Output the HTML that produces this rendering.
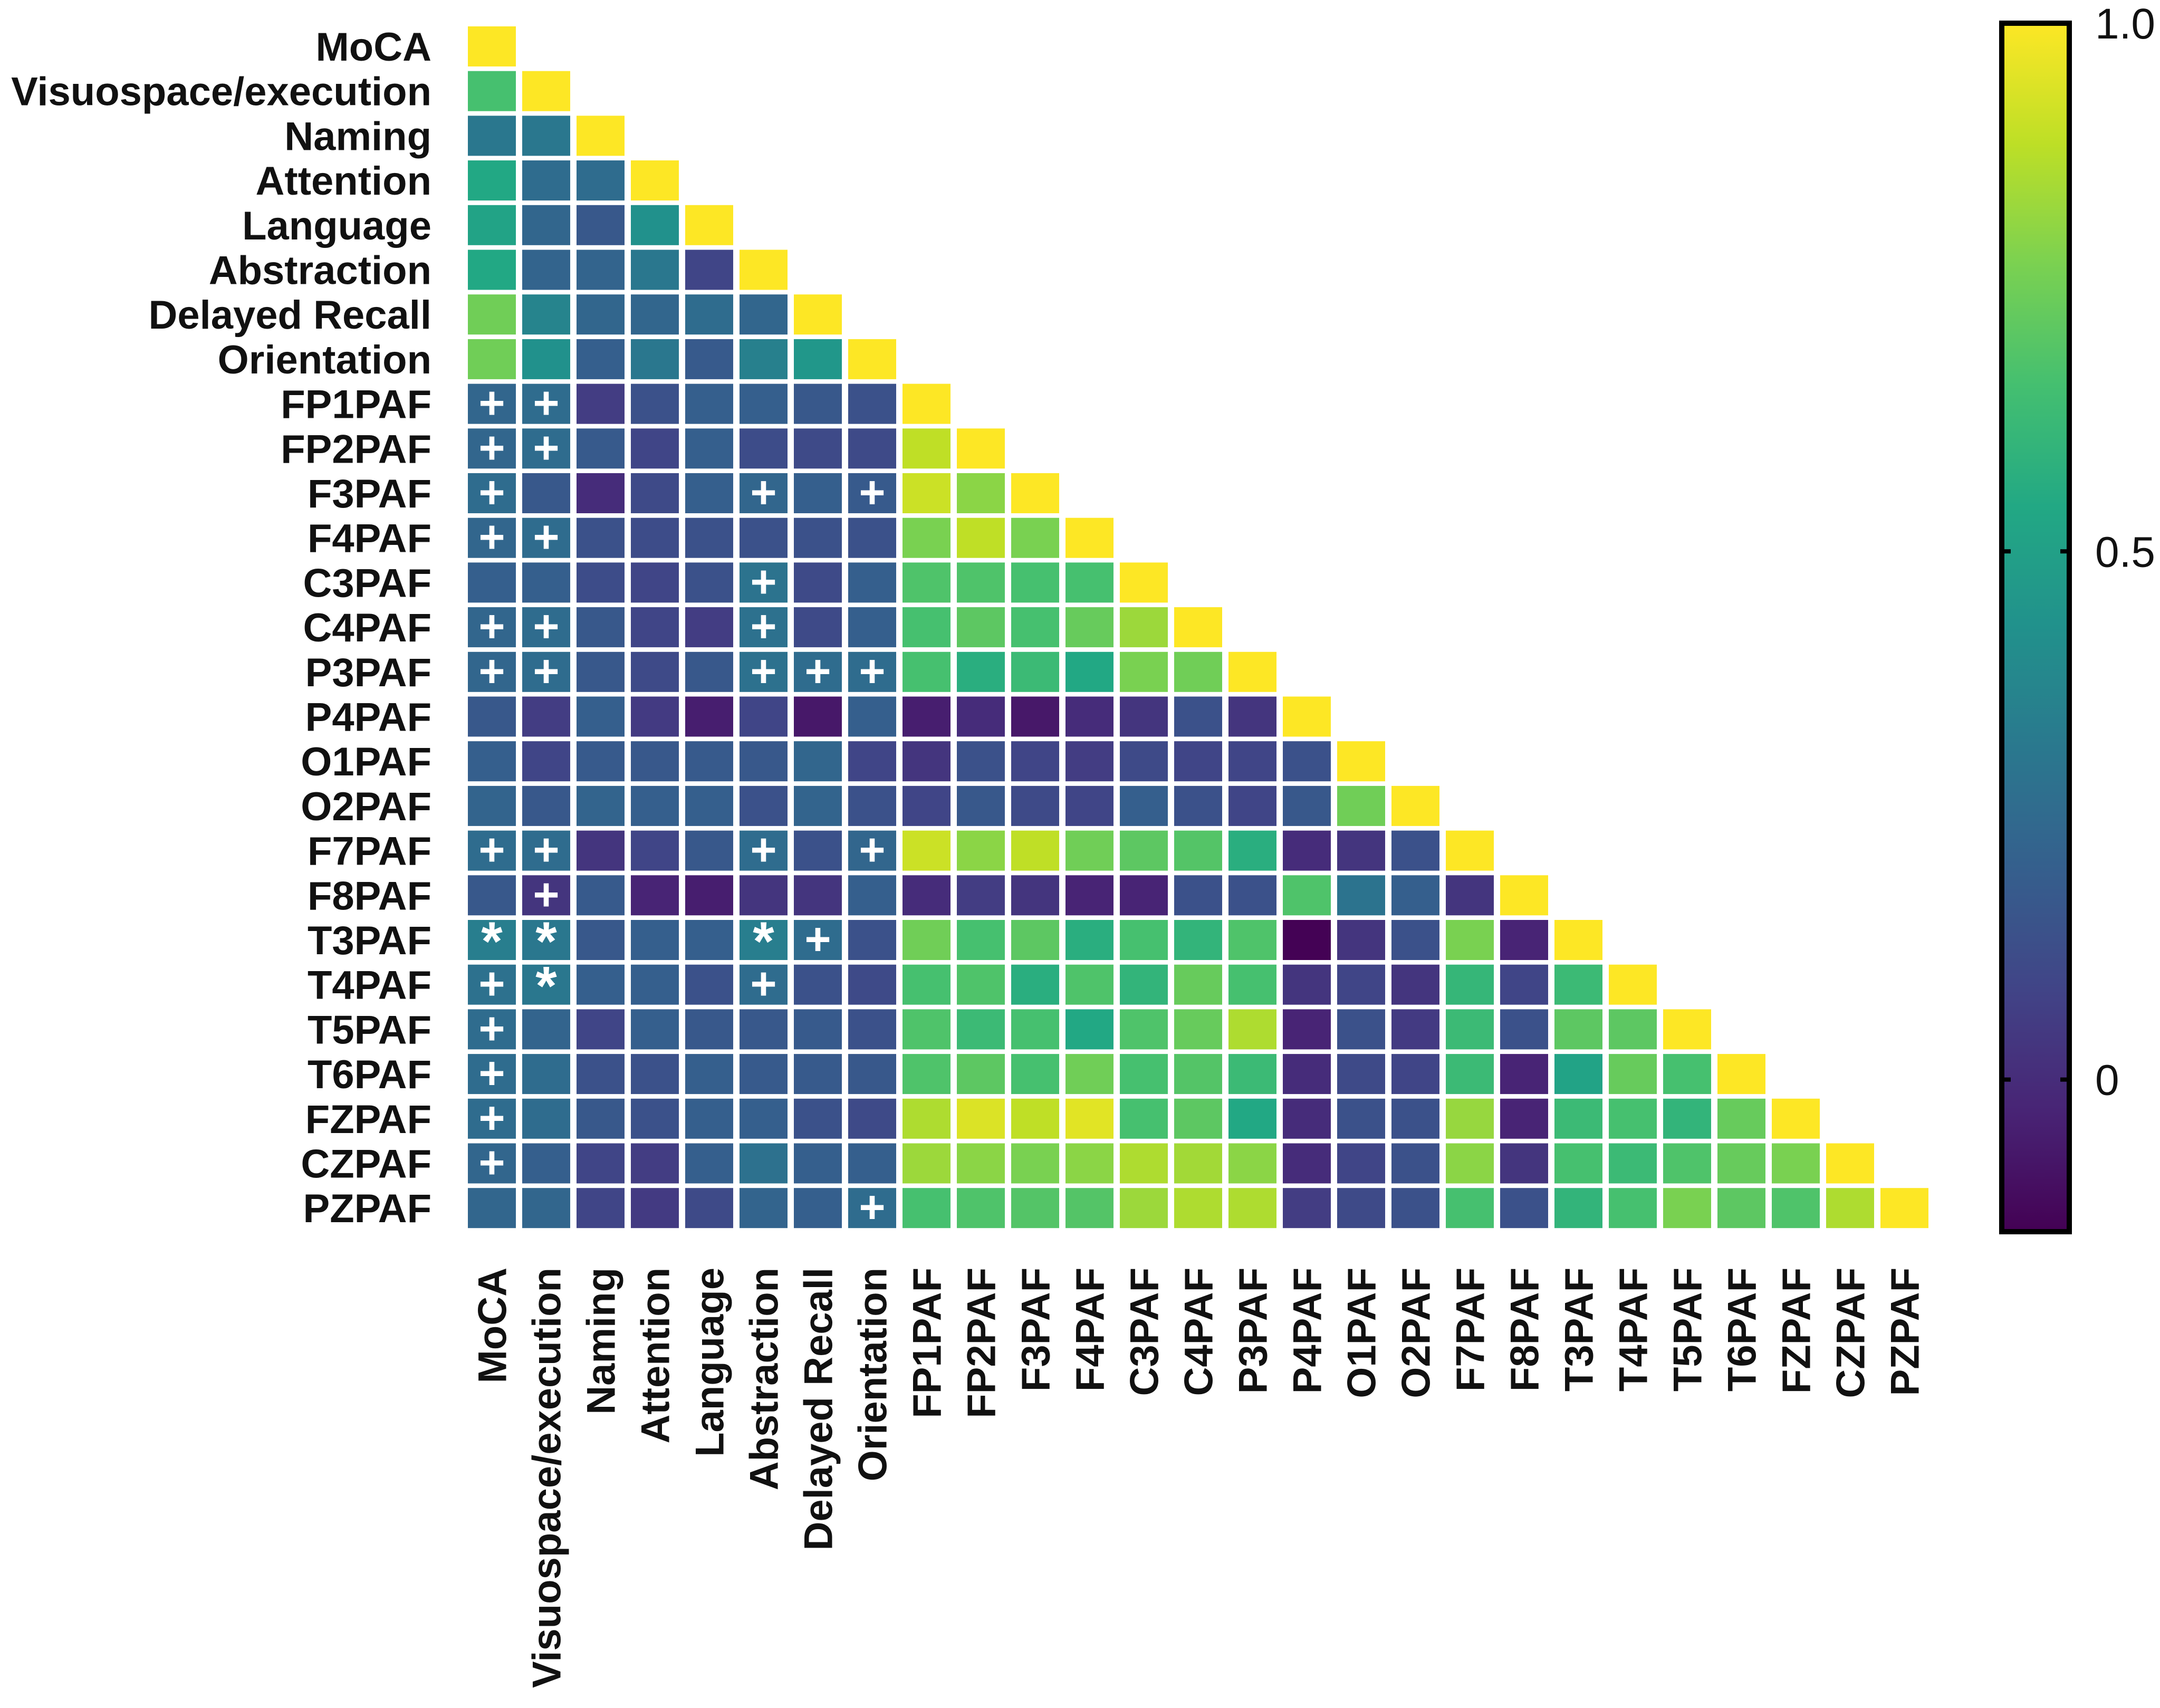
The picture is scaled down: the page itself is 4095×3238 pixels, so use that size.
<!DOCTYPE html>
<html><head><meta charset="utf-8"><style>
html,body{margin:0;padding:0;background:#fff}
svg{display:block}
text{font-family:"Liberation Sans",Arial,sans-serif}
</style></head><body>
<svg id="chart" width="4095" height="3238" viewBox="0 0 4095 3238" xmlns="http://www.w3.org/2000/svg">
<defs><linearGradient id="vir" x1="0" y1="1" x2="0" y2="0"></linearGradient></defs>
<g id="cells"></g>
<g id="rowlabels"></g>
<g id="collabels"></g>
<g id="cbar"></g>
</svg>
<script>
const labels = ["MoCA","Visuospace/execution","Naming","Attention","Language","Abstraction","Delayed Recall","Orientation","FP1PAF","FP2PAF","F3PAF","F4PAF","C3PAF","C4PAF","P3PAF","P4PAF","O1PAF","O2PAF","F7PAF","F8PAF","T3PAF","T4PAF","T5PAF","T6PAF","FZPAF","CZPAF","PZPAF"];
const values = [
[1],
[0.66,1],
[0.31,0.31,1],
[0.54,0.26,0.26,1],
[0.52,0.23,0.17,0.43,1],
[0.54,0.22,0.22,0.31,0.09,1],
[0.75,0.37,0.23,0.23,0.26,0.23,1],
[0.75,0.43,0.20,0.31,0.18,0.35,0.46,1],
[0.23,0.26,0.06,0.14,0.20,0.20,0.17,0.14,1],
[0.23,0.26,0.18,0.09,0.20,0.12,0.11,0.11,0.89,1],
[0.26,0.17,0.00,0.11,0.20,0.23,0.20,0.18,0.91,0.80,1],
[0.23,0.26,0.14,0.12,0.14,0.14,0.14,0.14,0.77,0.89,0.77,1],
[0.20,0.20,0.12,0.09,0.14,0.29,0.11,0.20,0.68,0.68,0.66,0.66,1],
[0.23,0.26,0.17,0.09,0.06,0.28,0.11,0.20,0.66,0.71,0.66,0.73,0.83,1],
[0.23,0.26,0.17,0.11,0.17,0.28,0.26,0.26,0.66,0.57,0.63,0.54,0.77,0.75,1],
[0.17,0.06,0.20,0.05,-0.05,0.09,-0.07,0.20,-0.05,0.00,-0.07,0.00,0.03,0.14,0.03,1],
[0.20,0.09,0.18,0.17,0.18,0.17,0.23,0.09,0.03,0.14,0.09,0.06,0.11,0.09,0.09,0.14,1],
[0.22,0.17,0.22,0.20,0.20,0.14,0.22,0.14,0.09,0.17,0.11,0.09,0.20,0.14,0.09,0.17,0.75,1],
[0.26,0.26,0.03,0.09,0.17,0.26,0.14,0.23,0.91,0.80,0.89,0.75,0.71,0.69,0.57,0.00,0.03,0.14,1],
[0.17,0.03,0.18,-0.03,-0.05,0.03,0.03,0.20,0.00,0.06,0.03,-0.03,-0.03,0.14,0.14,0.68,0.29,0.20,0.03,1],
[0.34,0.31,0.17,0.20,0.20,0.34,0.26,0.14,0.75,0.66,0.71,0.57,0.66,0.60,0.68,-0.14,0.03,0.14,0.77,-0.03,1],
[0.28,0.31,0.20,0.20,0.14,0.26,0.14,0.11,0.66,0.68,0.57,0.68,0.60,0.73,0.66,0.03,0.09,0.03,0.61,0.09,0.63,1],
[0.26,0.22,0.09,0.20,0.17,0.17,0.18,0.14,0.68,0.63,0.66,0.54,0.68,0.73,0.86,-0.03,0.14,0.05,0.63,0.14,0.71,0.71,1],
[0.26,0.26,0.14,0.14,0.20,0.18,0.18,0.17,0.68,0.71,0.66,0.75,0.66,0.69,0.63,0.00,0.11,0.09,0.63,-0.03,0.52,0.73,0.66,1],
[0.26,0.26,0.17,0.14,0.20,0.20,0.14,0.11,0.86,0.94,0.89,0.95,0.66,0.71,0.54,0.00,0.14,0.14,0.82,-0.03,0.63,0.66,0.60,0.73,1],
[0.23,0.20,0.09,0.06,0.20,0.28,0.20,0.20,0.83,0.80,0.77,0.80,0.86,0.84,0.80,0.00,0.09,0.14,0.80,0.03,0.66,0.63,0.68,0.73,0.77,1],
[0.23,0.23,0.09,0.05,0.11,0.22,0.20,0.26,0.66,0.68,0.69,0.69,0.83,0.86,0.86,0.06,0.11,0.14,0.66,0.14,0.60,0.66,0.77,0.71,0.68,0.86,1]
];
// significance markers: [row, col, symbol]
const markers = [
[8,0,"+"],[8,1,"+"],[9,0,"+"],[9,1,"+"],[10,0,"+"],[10,5,"+"],[10,7,"+"],[11,0,"+"],[11,1,"+"],
[12,5,"+"],[13,0,"+"],[13,1,"+"],[13,5,"+"],[14,0,"+"],[14,1,"+"],[14,5,"+"],[14,6,"+"],[14,7,"+"],
[18,0,"+"],[18,1,"+"],[18,5,"+"],[18,7,"+"],[19,1,"+"],[20,0,"*"],[20,1,"*"],[20,5,"*"],[20,6,"+"],
[21,0,"+"],[21,1,"*"],[21,5,"+"],[22,0,"+"],[23,0,"+"],[24,0,"+"],[25,0,"+"],[26,7,"+"]
];
const cbTicks = [1.0, 0.5, 0];
const cbTickLabels = ["1.0","0.5","0"];
const vmin = -0.144, vmax = 1.0;

const NS="http://www.w3.org/2000/svg";
const stops=[[68,1,84],[72,36,117],[65,68,135],[53,95,141],[42,120,142],[33,145,140],[34,168,132],[68,191,112],[122,209,81],[189,223,38],[253,231,37]];
function viridis(t){t=Math.max(0,Math.min(1,t));const p=t*10,i=Math.min(9,Math.floor(p)),f=p-i;const a=stops[i],b=stops[i+1];
return "rgb("+a.map((c,k)=>Math.round(c+(b[k]-c)*f)).join(",")+")";}
function color(v){return viridis((v-vmin)/(vmax-vmin));}
const x0=887, px=103, cw=91, y0=50, py=84.7, ch=76;
function xs(c){return x0+c*px;}
function ys(r){return y0+r*py;}
function mk(tag,attrs,parent){const e=document.createElementNS(NS,tag);for(const k in attrs)e.setAttribute(k,attrs[k]);parent.appendChild(e);return e;}
const cells=document.getElementById('cells');
values.forEach((row,r)=>row.forEach((v,c)=>{
  const el=mk('rect',{x:xs(c),y:ys(r),width:cw,height:ch,fill:color(v)},cells);
  
  
}));
markers.forEach(m=>{
  const t=mk('text',{x:xs(m[1])+cw/2,y:ys(m[0])+ch/2+(m[2]=="*"?38:28),'text-anchor':'middle','font-size':m[2]=="*"?104:86,'font-weight':'bold',fill:'#fff'},cells);
  t.textContent=m[2];
  
  
});
const rl=document.getElementById('rowlabels'), cl=document.getElementById('collabels');
labels.forEach((l,i)=>{
  const t=mk('text',{x:818,y:ys(i)+ch/2+27,'text-anchor':'end','font-size':76,'font-weight':'bold',fill:'#111'},rl);
  t.textContent=l;
  
  
  const cx=xs(i)+cw/2+27;
  const u=mk('text',{x:cx,y:2403,'text-anchor':'end','font-size':76,'font-weight':'bold',fill:'#111',transform:'rotate(-90 '+cx+' 2403)'},cl);
  u.textContent=l;
  
  
});
// colorbar
const g=document.getElementById('vir');
for(let i=0;i<=20;i++){mk('stop',{offset:(i/20),'stop-color':viridis(i/20)},g);}
const cb=document.getElementById('cbar');
const cbTop=44, cbBot=2335, cbL=3790, cbR=3928;
function cy(v){return cbBot-(v-vmin)/(vmax-vmin)*(cbBot-cbTop);}
const bar=mk('rect',{x:cbL+5,y:cbTop,width:cbR-cbL-10,height:cbBot-cbTop,fill:'url(#vir)',stroke:'#000','stroke-width':10},cb);


cbTicks.forEach((v,i)=>{
  const y=cy(v);
  mk('line',{x1:cbL+5,x2:cbL+22,y1:y,y2:y,stroke:'#000','stroke-width':8},cb);
  mk('line',{x1:cbR-22,x2:cbR-5,y1:y,y2:y,stroke:'#000','stroke-width':8},cb);
  const t=mk('text',{x:3972,y:y+29,'font-size':82,fill:'#111'},cb);
  t.textContent=cbTickLabels[i];
  
  
});
</script>
</body></html>
